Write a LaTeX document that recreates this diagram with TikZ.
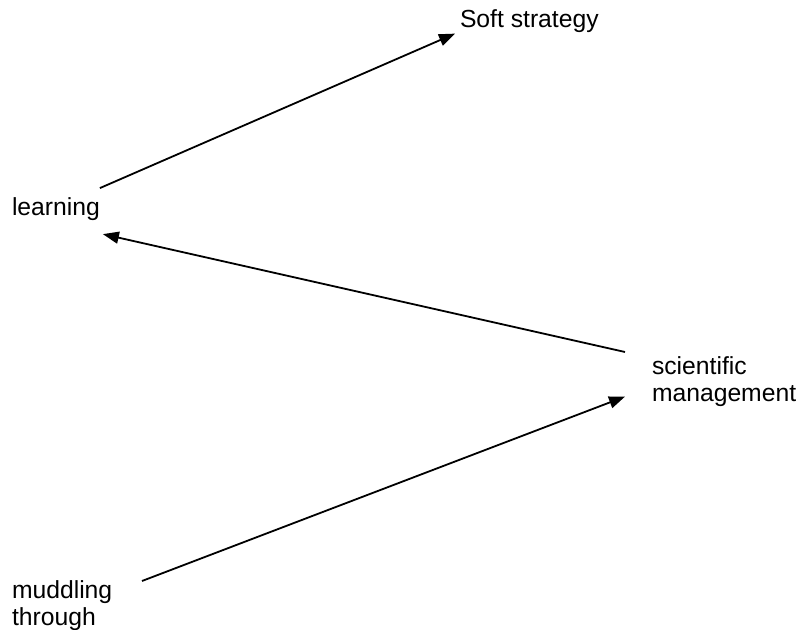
\documentclass[tikz,border=0pt]{standalone}
\usepackage{fontspec}
\setmainfont{Liberation Sans}
\usetikzlibrary{arrows.meta}
\begin{document}
\begin{tikzpicture}[x=0.5pt,y=-0.5pt,
  lbl/.style={inner sep=0pt,outer sep=0pt,align=left,font=\fontsize{12.35}{13.3}\selectfont,text=black},
  conn/.style={line width=0.9pt,-{Triangle[length=8pt,width=6pt]}}]
\useasboundingbox (0,0) rectangle (799,630);
\node[lbl,anchor=base west] (soft) at (460,28) {Soft strategy};
\node[lbl,anchor=base west] (learn) at (12,216) {learning};
\node[lbl,anchor=north west] (sci) at (652,357) {scientific\\management};
\node[lbl,anchor=north west] (mud) at (12,581) {muddling\\through};
\draw[conn] ([shift={(0,-10)}]learn.north east) -- ([shift={(-5,12)}]soft.west);
\draw[conn] ([shift={(-27,-5)}]sci.north west) -- ([shift={(3,13)}]learn.south east);
\draw[conn] ([shift={(130,0)}]mud.north west) -- ([shift={(-27,-10)}]sci.south west);
\end{tikzpicture}
\end{document}
